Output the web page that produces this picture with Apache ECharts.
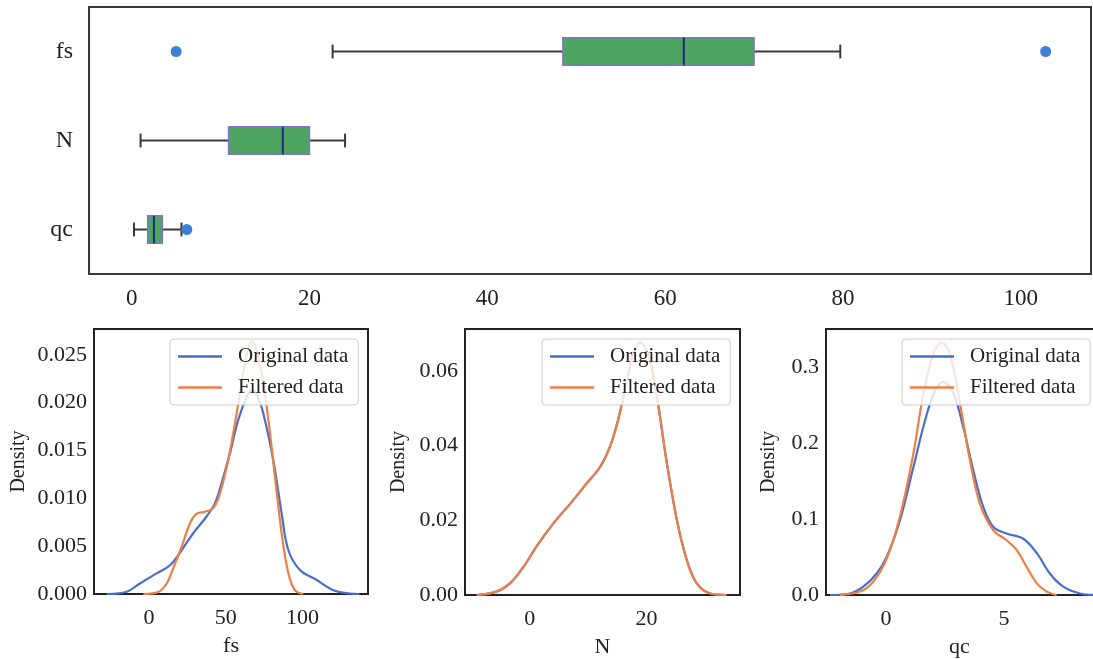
<!DOCTYPE html>
<html>
<head>
<meta charset="utf-8">
<script src="https://cdn.jsdelivr.net/npm/echarts@6/dist/echarts.min.js"></script>
<style>html,body{margin:0;padding:0;background:#fff}#c{width:1093px;height:659px}</style>
</head>
<body>
<div id="c"></div>
<script>
// ---------- DATA ----------
const categories = ['fs', 'N', 'qc'];
// [min whisker, Q1, median, Q3, max whisker]
const boxFs = [22.6, 48.5, 62.1, 70.0, 79.7];
const boxN = [1.0, 10.9, 17.0, 20.0, 24.0];
const boxQc = [0.26, 1.8, 2.5, 3.45, 5.6];
const outliers = [[5.0, 'fs'], [102.8, 'fs'], [6.2, 'qc']];
const topTicks = [0, 20, 40, 60, 80, 100];

const fsOriginal = [[-27.5,0],[-14.5,0.00024],[-5.9,0.0011],[5,0.00216],[13.7,0.003],[21.3,0.0046],[28.8,0.00635],[37.5,0.0081],[43,0.0095],[47.3,0.0116],[52.7,0.0147],[58.1,0.0182],[63.6,0.0206],[66.9,0.0213],[70.5,0.0207],[74.4,0.0189],[80.9,0.014],[86.4,0.0084],[90.7,0.0046],[98.3,0.0025],[109.2,0.00146],[120,0.0004],[130.8,0.00005],[137,0]];
const fsFiltered = [[-3.7,0],[6,0.0002],[11.5,0.0011],[15.8,0.0027],[21.3,0.00495],[26.7,0.0074],[31.1,0.0084],[36.5,0.0086],[41.9,0.009],[46.2,0.0105],[51.6,0.014],[57.1,0.0189],[62.5,0.0241],[66.9,0.0264],[71.2,0.0248],[76.6,0.0196],[82,0.0123],[86.4,0.0063],[90.7,0.0022],[95,0.0004],[100.4,0]];
const nOriginal = [[-9.1,0],[-5.7,0.0009],[-3.4,0.0031],[-1.1,0.0075],[1.1,0.0129],[4,0.0191],[6.9,0.0244],[9.7,0.0298],[12,0.0342],[13.7,0.0396],[15.1,0.0467],[16.6,0.0573],[17.7,0.0644],[18.9,0.0676],[20.3,0.0644],[21.7,0.0538],[23.4,0.036],[25.2,0.02],[26.9,0.0093],[28.6,0.0031],[30.9,0.0004],[33.7,0]];
const nFiltered = [[-9.1,0],[-5.7,0.0009],[-3.4,0.0031],[-1.1,0.0075],[1.1,0.0129],[4,0.0191],[6.9,0.0244],[9.7,0.0298],[12,0.0342],[13.7,0.0396],[15.1,0.0467],[16.6,0.0573],[17.7,0.0644],[18.9,0.0676],[20.3,0.0644],[21.7,0.0538],[23.4,0.036],[25.2,0.02],[26.9,0.0093],[28.6,0.0031],[30.9,0.0004],[33.7,0]];
const qcOriginal = [[-2.37,0],[-1.53,0.002],[-0.96,0.011],[-0.4,0.028],[0.03,0.05],[0.59,0.098],[1.16,0.168],[1.65,0.229],[2.08,0.269],[2.43,0.28],[2.85,0.266],[3.28,0.22],[3.7,0.164],[4.12,0.116],[4.55,0.0895],[5.11,0.081],[5.82,0.074],[6.39,0.055],[6.95,0.028],[7.51,0.011],[8.22,0.002],[8.9,0]];
const qcFiltered = [[-1.95,0],[-1.1,0.0045],[-0.54,0.0175],[0.03,0.048],[0.59,0.103],[1.16,0.186],[1.58,0.264],[2.0,0.317],[2.36,0.332],[2.71,0.317],[3.14,0.251],[3.56,0.177],[3.98,0.12],[4.55,0.085],[5.11,0.072],[5.54,0.059],[5.96,0.037],[6.39,0.0153],[6.81,0.0045],[7.23,0]];

const fsXTicks = [0, 50, 100];
const fsYTicks = [0, 0.005, 0.010, 0.015, 0.020, 0.025];
const nXTicks = [0, 20];
const nYTicks = [0, 0.02, 0.04, 0.06];
const qcXTicks = [0, 5];
const qcYTicks = [0, 0.1, 0.2, 0.3];
const legendNames = ['Original data', 'Filtered data'];

// ---------- STYLE ----------
const FONT = '"Liberation Serif", "Times New Roman", serif';
const BLUE = '#4a6fcb';
const ORANGE = '#ec7f45';
const FRAME = '#222';
const chart = echarts.init(document.getElementById('c'), null, {renderer: 'canvas'});

const boxData = [boxFs, boxN, boxQc].map((s, i) => [i].concat(s));

function renderBox(params, api) {
  const y = api.value(0);
  const pMin = api.coord([api.value(1), y]);
  const pQ1 = api.coord([api.value(2), y]);
  const pMed = api.coord([api.value(3), y]);
  const pQ3 = api.coord([api.value(4), y]);
  const pMax = api.coord([api.value(5), y]);
  const band = api.size([0, 1])[1];
  const h = band * 0.31;
  const cy = pMed[1];
  const wStyle = {stroke: '#3a3a3a', lineWidth: 2};
  return {
    type: 'group',
    children: [
      {type: 'line', shape: {x1: pMin[0], y1: cy, x2: pQ1[0], y2: cy}, style: wStyle},
      {type: 'line', shape: {x1: pQ3[0], y1: cy, x2: pMax[0], y2: cy}, style: wStyle},
      {type: 'line', shape: {x1: pMin[0], y1: cy - h / 4, x2: pMin[0], y2: cy + h / 4}, style: wStyle},
      {type: 'line', shape: {x1: pMax[0], y1: cy - h / 4, x2: pMax[0], y2: cy + h / 4}, style: wStyle},
      {type: 'rect', shape: {x: pQ1[0], y: cy - h / 2, width: pQ3[0] - pQ1[0], height: h},
        style: {fill: '#4ea562', stroke: '#7f72d6', lineWidth: 1.5}},
      {type: 'line', shape: {x1: pMed[0], y1: cy - h / 2, x2: pMed[0], y2: cy + h / 2},
        style: {stroke: '#1b2a7a', lineWidth: 2}}
    ]
  };
}

const labelStyle = {fontFamily: FONT, color: '#222'};
const frameLine = {show: true, onZero: false, lineStyle: {color: FRAME, width: 2}};

function kdeXAxis(idx, min, max, ticks, name, withLine) {
  return {
    type: 'value', gridIndex: idx, min: min, max: max,
    axisLine: withLine ? frameLine : {show: false}, axisTick: {show: false}, splitLine: {show: false},
    axisLabel: Object.assign({fontSize: 22, margin: 13, customValues: ticks, formatter: v => String(v)}, labelStyle),
    name: name, nameLocation: 'middle', nameGap: 41,
    nameTextStyle: Object.assign({fontSize: 22}, labelStyle)
  };
}
function kdeYAxis(idx, max, ticks, dec, gap, withLine) {
  return {
    type: 'value', gridIndex: idx, min: 0, max: max,
    axisLine: withLine ? frameLine : {show: false}, axisTick: {show: false}, splitLine: {show: false},
    axisLabel: Object.assign({fontSize: 22, margin: 7, customValues: ticks, formatter: v => v.toFixed(dec)}, labelStyle),
    name: 'Density', nameLocation: 'middle', nameRotate: 90, nameGap: gap,
    nameTextStyle: Object.assign({fontSize: 20}, labelStyle)
  };
}
function kdeLegend(left) {
  return {
    data: legendNames.map(n => ({name: n, icon: 'rect'})), left: left, top: 339, orient: 'vertical',
    itemWidth: 44, itemHeight: 2.6, itemGap: 10,
    backgroundColor: 'rgba(255,255,255,0.8)', borderColor: '#cccccc', borderWidth: 1, borderRadius: 4,
    padding: [7, 10, 7, 8],
    textStyle: Object.assign({fontSize: 21, padding: [0, 0, 0, 11]}, labelStyle),
    selectedMode: false
  };
}
function kdeLine(name, data, idx, color) {
  return {
    type: 'line', name: name, data: data, xAxisIndex: idx, yAxisIndex: idx,
    symbol: 'none', smooth: 0.35, lineStyle: {color: color, width: 2.2}, itemStyle: {color: color}
  };
}

const gridStyle = {show: true, borderWidth: 2, borderColor: FRAME, backgroundColor: '#fff', containLabel: false};

const option = {
  backgroundColor: '#fff',
  animation: false,
  grid: [
    Object.assign({left: 89, top: 7, width: 1002, height: 267}, gridStyle, {borderColor: '#3a3a3a'}),
    Object.assign({left: 94, top: 329, width: 274, height: 265}, gridStyle),
    Object.assign({left: 465, top: 329, width: 275, height: 266}, gridStyle),
    // third panel is cut by the right edge of the picture: no right border
    {left: 826, top: 329, right: 0, height: 266, show: false, containLabel: false}
  ],
  legend: [kdeLegend(170), kdeLegend(542), kdeLegend(902)],
  xAxis: [
    {type: 'value', gridIndex: 0, min: -4.8, max: 107.9,
      axisLine: {show: false}, axisTick: {show: false}, splitLine: {show: false},
      axisLabel: Object.assign({fontSize: 23, margin: 13, customValues: topTicks, formatter: v => String(v)}, labelStyle)},
    kdeXAxis(1, -35.8, 142.6, fsXTicks, 'fs', false),
    kdeXAxis(2, -11.1, 36, nXTicks, 'N', false),
    kdeXAxis(3, -2.54, 8.77, qcXTicks, 'qc', true),
    {type: 'value', gridIndex: 3, position: 'top', min: -2.54, max: 8.77,
      axisLine: frameLine, axisTick: {show: false}, axisLabel: {show: false}, splitLine: {show: false}}
  ],
  yAxis: [
    {type: 'category', gridIndex: 0, data: categories, inverse: true,
      axisLine: {show: false}, axisTick: {show: false}, splitLine: {show: false},
      axisLabel: Object.assign({fontSize: 24, margin: 16}, labelStyle)},
    kdeYAxis(1, 0.0277, fsYTicks, 3, 65, false),
    kdeYAxis(2, 0.0712, nYTicks, 2, 56, false),
    kdeYAxis(3, 0.35, qcYTicks, 1, 47, true)
  ],
  series: [
    {type: 'custom', xAxisIndex: 0, yAxisIndex: 0, data: boxData, renderItem: renderBox,
      encode: {x: [1, 2, 3, 4, 5], y: 0}},
    {type: 'scatter', xAxisIndex: 0, yAxisIndex: 0, data: outliers, symbolSize: 11,
      itemStyle: {color: '#3d80d6', opacity: 1}},
    kdeLine('Original data', fsOriginal, 1, BLUE),
    kdeLine('Filtered data', fsFiltered, 1, ORANGE),
    kdeLine('Original data', nOriginal, 2, BLUE),
    kdeLine('Filtered data', nFiltered, 2, ORANGE),
    kdeLine('Original data', qcOriginal, 3, BLUE),
    kdeLine('Filtered data', qcFiltered, 3, ORANGE)
  ]
};
chart.setOption(option);
</script>
</body>
</html>
